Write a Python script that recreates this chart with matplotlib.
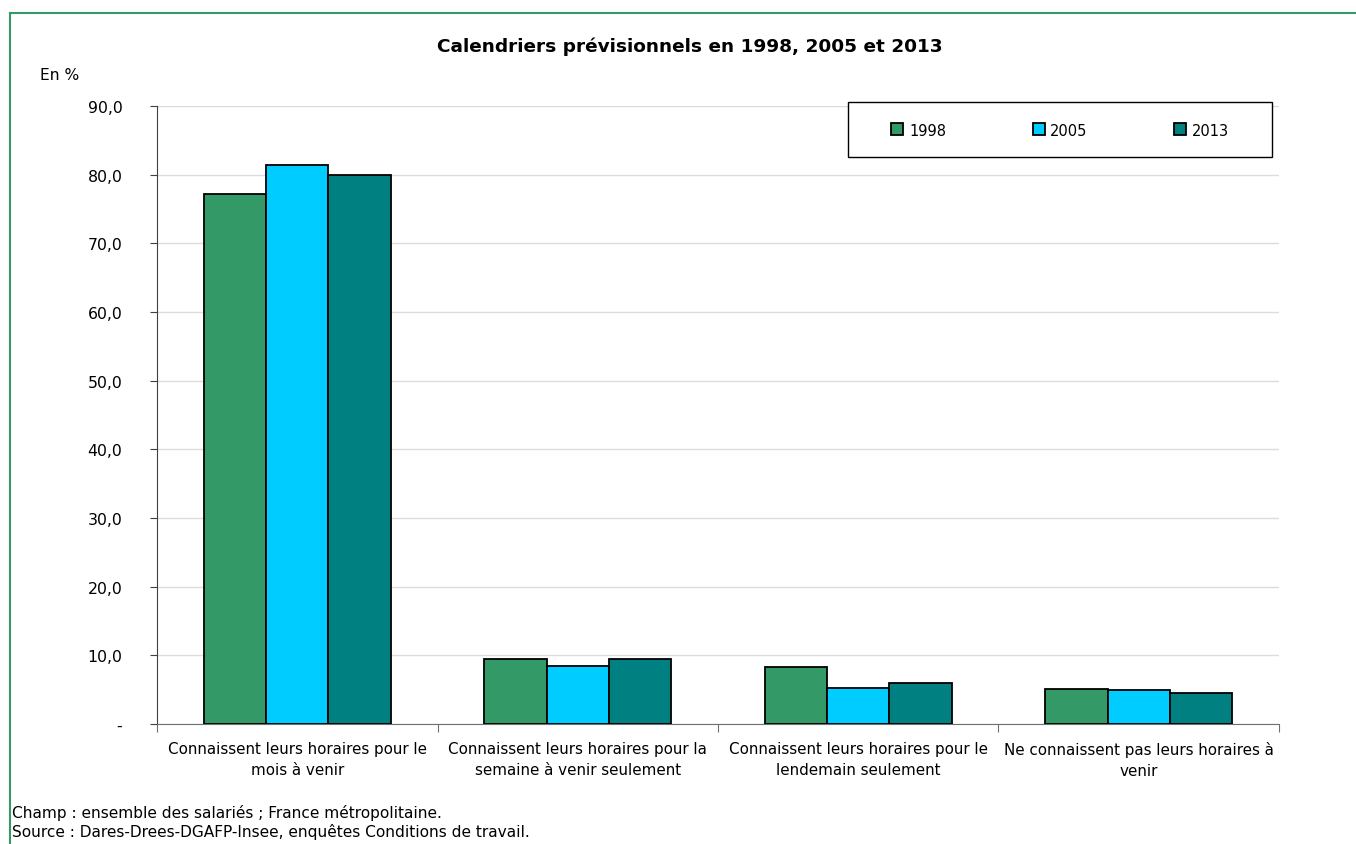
import numpy as np
import matplotlib.pyplot as plt
from matplotlib.lines import Line2D
from matplotlib.patches import Rectangle

# Données (en %)
categories = ["Connaissent leurs horaires pour le\nmois à venir",
              "Connaissent leurs horaires pour la\nsemaine à venir seulement",
              "Connaissent leurs horaires pour le\nlendemain seulement",
              "Ne connaissent pas leurs horaires à\nvenir"]
years = ["1998", "2005", "2013"]
v1998 = [77.2, 9.5, 8.3, 5.1]
v2005 = [81.4, 8.4, 5.2, 4.9]
v2013 = [79.9, 9.5, 6.0, 4.5]
colors = ["#339966", "#00CCFF", "#008080"]
yticks = [0, 10, 20, 30, 40, 50, 60, 70, 80, 90]
ytick_labels = ["-", "10,0", "20,0", "30,0", "40,0", "50,0", "60,0", "70,0", "80,0", "90,0"]

W, H = 1356, 845
fig = plt.figure(figsize=(W / 100, H / 100), dpi=100)
ax = fig.add_axes([157 / W, 1 - 725 / H, (1279 - 157) / W, (725 - 107) / H])

x = np.arange(len(categories))
bw = 1 / 4.5
for i, (vals, c) in enumerate(zip([v1998, v2005, v2013], colors)):
    ax.bar(x + (i - 1) * bw, vals, width=bw, color=c, edgecolor="black", linewidth=1.3, zorder=3)

ax.set_xlim(-0.5, len(categories) - 0.5)
ax.set_ylim(0, 90)
ax.set_yticks(yticks)
ax.set_yticklabels(ytick_labels, fontsize=11.3, family="DejaVu Sans")
ax.yaxis.grid(True, color="#dcdcdc", linewidth=1, zorder=0)
ax.set_axisbelow(True)

ax.set_xticks(np.arange(-0.5, len(categories), 1))
ax.set_xticklabels([])
ax.set_xticks(x, minor=True)
ax.set_xticklabels(categories, minor=True, fontsize=10.9, family="DejaVu Sans")
ax.tick_params(axis="x", which="minor", length=0, pad=12)
ax.tick_params(axis="x", which="major", length=6, color="#707070")
ax.tick_params(axis="y", length=5, color="#404040", pad=20)
for lab in ax.get_xticklabels(minor=True):
    lab.set_linespacing(1.5)

for s in ["top", "right"]:
    ax.spines[s].set_visible(False)
ax.spines["left"].set_color("#404040")
ax.spines["bottom"].set_color("#707070")

# légende : cadre noir dessiné à part
fig.add_artist(Rectangle((848 / W, 1 - 158 / H), (1272 - 848) / W, 55 / H,
                         transform=fig.transFigure, facecolor="white",
                         edgecolor="black", linewidth=1.0, zorder=4))
handles = [Line2D([], [], marker="s", linestyle="", markersize=8, markerfacecolor=c,
                  markeredgecolor="black", markeredgewidth=1.3) for c in colors]
leg = fig.legend(handles, years, ncol=3, loc="center",
                 bbox_to_anchor=((848 + 1272) / 2 / W, 1 - 131 / H),
                 frameon=False, fontsize=10.5,
                 handletextpad=0.35, columnspacing=5.9, handlelength=0.9,
                 borderaxespad=0)
leg.set_zorder(5)

fig.text(690 / W, 1 - 47 / H, "Calendriers prévisionnels en 1998, 2005 et 2013",
         ha="center", va="center", fontsize=13.3, fontweight="bold")
fig.text(40 / W, 1 - 75 / H, "En %", ha="left", va="center", fontsize=11.2)
fig.text(12 / W, 1 - 813 / H, "Champ : ensemble des salariés ; France métropolitaine.",
         ha="left", va="center", fontsize=11.1)
fig.text(12 / W, 1 - 832 / H, "Source : Dares-Drees-DGAFP-Insee, enquêtes Conditions de travail.",
         ha="left", va="center", fontsize=11.1)

# cadre vert
fig.add_artist(Line2D([10 / W, 1], [1 - 14 / H, 1 - 14 / H], color="#339966", linewidth=1.5))
fig.add_artist(Line2D([10 / W, 10 / W], [0, 1 - 14 / H], color="#339966", linewidth=1.5))

fig.savefig("out.png", dpi=100)
